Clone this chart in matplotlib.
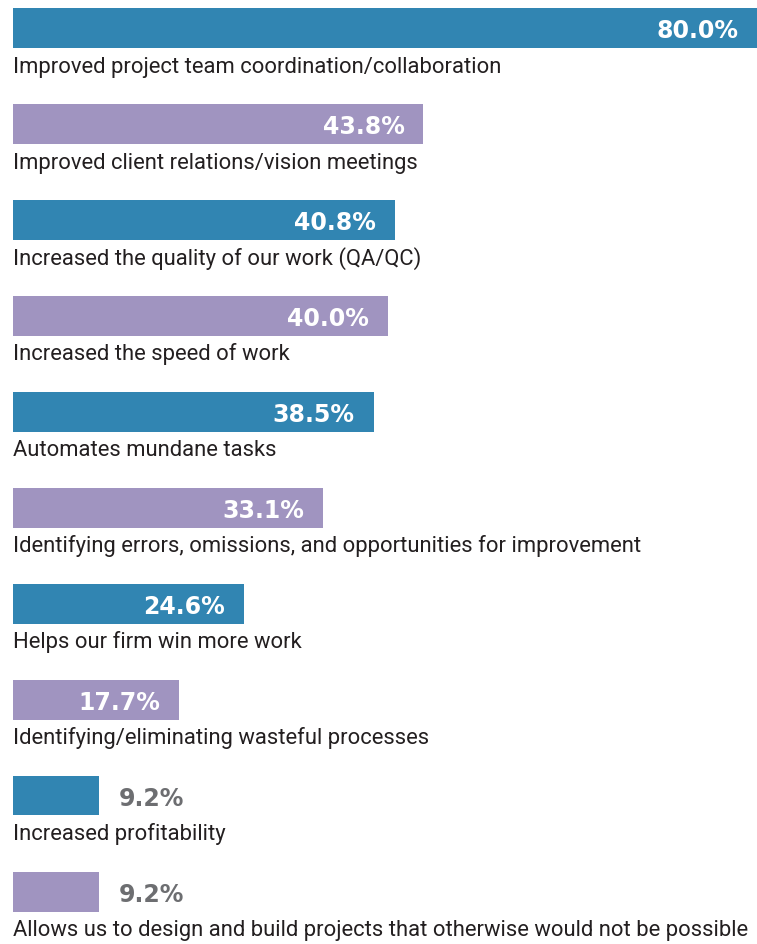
import matplotlib
matplotlib.use("Agg")
import matplotlib.pyplot as plt

categories = [
    "Improved project team coordination/collaboration",
    "Improved client relations/vision meetings",
    "Increased the quality of our work (QA/QC)",
    "Increased the speed of work",
    "Automates mundane tasks",
    "Identifying errors, omissions, and opportunities for improvement",
    "Helps our firm win more work",
    "Identifying/eliminating wasteful processes",
    "Increased profitability",
    "Allows us to design and build projects that otherwise would not be possible",
]
values = [80.0, 43.8, 40.8, 40.0, 38.5, 33.1, 24.6, 17.7, 9.2, 9.2]
value_labels = ["80.0%", "43.8%", "40.8%", "40.0%", "38.5%", "33.1%", "24.6%", "17.7%", "9.2%", "9.2%"]

BLUE = "#3185b2"
PURPLE = "#a094c0"
GRAY = "#6d6e71"
TEXT = "#231f20"

W, H = 757, 945
fig = plt.figure(figsize=(W / 100, H / 100), dpi=100)
ax = fig.add_axes([13 / W, 0, 744 / W, 1])
px_per_unit = 9.37
ax.set_xlim(0, 744 / px_per_unit)
row_px = 96.0
top_off = 28.5 / row_px
ax.set_ylim(H / row_px - top_off, -top_off)
ax.axis("off")

fam = ["Roboto", "DejaVu Sans"]
valfam = ["DejaVu Sans"]

for i, (cat, v, lab) in enumerate(zip(categories, values, value_labels)):
    color = BLUE if i % 2 == 0 else PURPLE
    ax.barh(i, v, height=40 / row_px, color=color, align="center", clip_on=True)
    if v > 15:
        xr = min(v, 744 / px_per_unit)
        ax.text(xr - 19 / px_per_unit, i, lab, ha="right", va="center_baseline",
                color="white", fontsize=17, fontweight="bold", family=valfam)
    else:
        ax.text(v + 20 / px_per_unit, i, lab, ha="left", va="center_baseline",
                color=GRAY, fontsize=17, fontweight="bold", family=valfam)
    ax.text(0, i + 44 / row_px, cat, ha="left", va="baseline",
            color=TEXT, fontsize=15.8, family=fam)

fig.savefig("out.png", dpi=100)
